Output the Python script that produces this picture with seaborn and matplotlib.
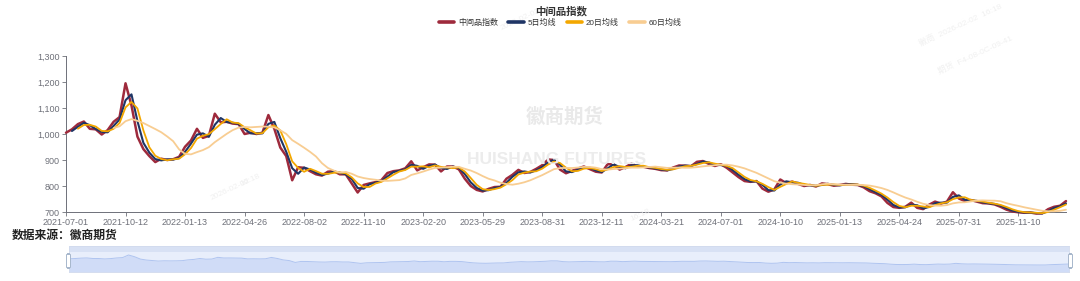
import numpy as np
import pandas as pd
import matplotlib
matplotlib.use("Agg")
import matplotlib.pyplot as plt
import seaborn as sns
from matplotlib.lines import Line2D
from matplotlib.patches import FancyBboxPatch
from matplotlib.ticker import FuncFormatter, MultipleLocator

# ---------------- data (~weekly samples) ----------------
index_values = [
    1005, 1018, 1038, 1048, 1020, 1018, 998, 1015, 1047, 1065,
    1195, 1110, 990, 942, 915, 892, 905, 900, 903, 912,
    951, 975, 1020, 985, 993, 1078, 1045, 1047, 1040, 1038,
    1000, 1005, 1000, 1005, 1073, 1020, 948, 915, 822, 872,
    870, 857, 845, 840, 855, 857, 845, 845, 810, 775,
    804, 810, 815, 823, 850, 857, 860, 868, 895, 860,
    872, 883, 882, 856, 875, 875, 864, 828, 800, 785,
    779, 789, 796, 797, 828, 843, 862, 850, 854, 866,
    880, 902, 900, 863, 849, 858, 867, 875, 865, 855,
    852, 884, 883, 863, 873, 886, 874, 874, 869, 866,
    861, 860, 871, 879, 878, 876, 893, 896, 885, 877,
    884, 870, 852, 834, 819, 816, 819, 790, 778, 787,
    825, 811, 817, 808, 800, 804, 798, 810, 807, 801,
    804, 808, 805, 804, 795, 780, 772, 760, 735, 719,
    716, 720, 736, 716, 711, 728, 740, 732, 740, 776,
    752, 742, 746, 740, 734, 733, 729, 720, 709, 702,
    699, 697, 698, 694, 695, 711, 720, 724, 742,
]
tick_labels = [
    "2021-07-01", "2021-10-12", "2022-01-13", "2022-04-26", "2022-08-02",
    "2022-11-10", "2023-02-20", "2023-05-29", "2023-08-31", "2023-12-11",
    "2024-03-21", "2024-07-01", "2024-10-10", "2025-01-13", "2025-04-24",
    "2025-07-31", "2025-11-10",
]
series_names = ["中间品指数", "5日均线", "20日均线", "60日均线"]
# moving-average windows expressed in samples (one sample ~ 6.6 trading days)
ma_windows = [2, 3, 9]

# ---------------- styling ----------------
colors = ["#9E2A3C", "#1F3565", "#F3A700", "#F8CD92"]
widths = [1.8, 1.5, 1.3, 1.3]
axis_color = "#6E7079"

sns.set_theme(style="white")
plt.rcParams["font.family"] = ["Liberation Sans", "Noto Sans CJK SC", "DejaVu Sans"]

s = pd.Series(index_values, dtype=float)
x = np.arange(len(s))
df = pd.DataFrame({
    "x": x,
    series_names[0]: s,
    series_names[1]: s.rolling(ma_windows[0]).mean(),
    series_names[2]: s.rolling(ma_windows[1]).mean(),
    series_names[3]: s.rolling(ma_windows[2]).mean(),
})

W, H = 1080, 281
fig = plt.figure(figsize=(W / 100, H / 100), dpi=100)
fig.patch.set_facecolor("white")

def fx(px):
    return px / W

def fy(py):
    return 1 - py / H

ax = fig.add_axes([fx(66), fy(212), fx(1066) - fx(66), fy(56) - fy(212)])
ax.set_facecolor("none")

# watermarks
fig.text(fx(565), fy(117), "徽商期货", ha="center", va="center", fontsize=14,
         color="#e9e9e9", fontweight="bold", family=["Noto Sans CJK SC"], zorder=0)
fig.text(fx(557), fy(160), "HUISHANG FUTURES", ha="center", va="center",
         fontsize=12.5, color="#ececec", fontweight="bold", zorder=0)
for (px, py, t) in [(250, 180, "16:18"), (520, 20, "2026-02-02"), (960, 25, "徽商  2026-02-02  16:18"),
                    (975, 55, "期货  F4-08-0C-09-41"), (230, 190, "2026-02-02"), (640, 215, "16:18")]:
    fig.text(fx(px), fy(py), t, ha="center", va="center", fontsize=6, rotation=25,
             color="#f0f0f0", zorder=0)

for name, c, lw in zip(series_names, colors, widths):
    sns.lineplot(data=df, x="x", y=name, ax=ax, color=c, linewidth=lw,
                 legend=False, zorder=3, clip_on=False)

ax.set_xlim(0, len(s) - 1)
ax.set_ylim(700, 1300)
ax.yaxis.set_major_locator(MultipleLocator(100))
ax.yaxis.set_major_formatter(FuncFormatter(lambda v, p: f"{int(v):,}"))
ax.set_xticks(np.arange(len(tick_labels)) * 10)
ax.set_xticklabels(tick_labels)
ax.set_xlabel("")
ax.set_ylabel("")
ax.tick_params(axis="both", labelsize=6.5, colors=axis_color, labelcolor=axis_color,
               length=3, width=0.6, bottom=True, left=True, pad=1.5)
for sp in ["top", "right"]:
    ax.spines[sp].set_visible(False)
for sp in ["left", "bottom"]:
    ax.spines[sp].set_color(axis_color)
    ax.spines[sp].set_linewidth(0.7)
ax.grid(False)

# title and legend
fig.text(fx(561), fy(11), "中间品指数", ha="center", va="center", fontsize=7.5,
         fontweight="bold", color="#333333", family=["Noto Sans CJK SC"])
handles = [Line2D([0], [0], color=c, lw=2.6, solid_capstyle="round") for c in colors]
leg = fig.legend(handles, series_names, loc="center", bbox_to_anchor=(fx(560), fy(23)),
                 ncol=4, frameon=False, fontsize=5.8, handlelength=1.9,
                 handletextpad=0.5, columnspacing=1.3, borderaxespad=0, borderpad=0)
for t in leg.get_texts():
    t.set_color("#333333")

# source
fig.text(fx(12), fy(235), "数据来源：徽商期货", ha="left", va="center", fontsize=8.5,
         fontweight="bold", color="#222222", family=["Noto Sans CJK SC"])

# data-zoom slider
sax = fig.add_axes([fx(69), fy(272), fx(1069) - fx(69), fy(246) - fy(272)])
sax.set_facecolor("#E8EEFB")
sax.set_xlim(0, len(s) - 1)
ylo, yhi = 342, 1647
sax.set_ylim(ylo, yhi)
sax.axhspan(ylo + (yhi - ylo) * 20 / 26, yhi, color="#D8E1F4", lw=0)
sax.fill_between(x, ylo, s.values, color="#D0DCF7", lw=0)
sax.plot(x, s.values, color="#AFC4F0", lw=0.7)
sax.set_xticks([])
sax.set_yticks([])
for sp in sax.spines.values():
    sp.set_color("#D2DBEE")
    sp.set_linewidth(0.6)
for hx in [66.5, 1068.5]:
    fig.patches.append(FancyBboxPatch((fx(hx), fy(268)), fx(4), fy(254) - fy(268),
                                      boxstyle="round,pad=0,rounding_size=0.003",
                                      transform=fig.transFigure, facecolor="white",
                                      edgecolor="#A7B7CC", lw=0.7, zorder=5))

fig.savefig("out.png", dpi=100)
